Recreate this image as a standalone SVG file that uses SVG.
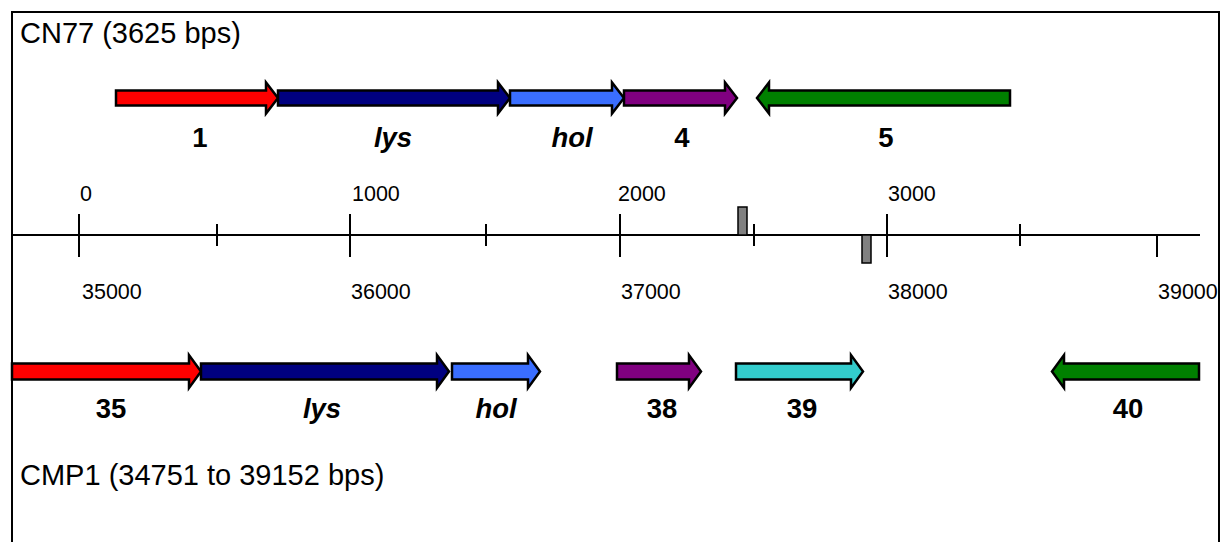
<svg xmlns="http://www.w3.org/2000/svg" width="1224" height="542" viewBox="0 0 1224 542">
  <style>
    .frame { fill: none; stroke: #000; stroke-width: 2; }
    .gene { stroke: #000; stroke-width: 2.5; stroke-linejoin: miter; }
    .axis { stroke: #000; stroke-width: 2; fill: none; }
    .tick { stroke: #000; stroke-width: 2; }
    .mark { fill: #808080; stroke: #000; stroke-width: 1.5; }
    .title { font-family: "Liberation Sans", Arial, sans-serif; font-size: 29px; fill: #000; }
    .num { font-family: "Liberation Sans", Arial, sans-serif; font-size: 21.5px; fill: #000; }
    .lbl { font-family: "Liberation Sans", Arial, sans-serif; font-size: 27.5px; font-weight: bold; fill: #000; text-anchor: middle; }
    .it { font-style: italic; }
    .red { fill: #ff0000; } .navy { fill: #000080; } .blue { fill: #3a6eff; }
    .purple { fill: #800080; } .green { fill: #008000; } .cyan { fill: #33cccc; }
  </style>

  <rect class="frame" x="12" y="12" width="1207" height="560"/>

  <text class="title" x="20" y="43">CN77 (3625 bps)</text>
  <text class="title" x="20" y="485">CMP1 (34751 to 39152 bps)</text>

  <!-- CN77 genes -->
  <g id="cn77-1">
    <polygon class="gene red" points="116,90.5 266,90.5 266,82.5 278,98 266,113.5 266,105.5 116,105.5"/>
    <text class="lbl" x="200" y="147">1</text>
  </g>
  <g id="cn77-lys">
    <polygon class="gene navy" points="278,90.5 498,90.5 498,82.5 510,98 498,113.5 498,105.5 278,105.5"/>
    <text class="lbl it" x="393" y="147">lys</text>
  </g>
  <g id="cn77-hol">
    <polygon class="gene blue" points="510,90.5 612,90.5 612,82.5 624,98 612,113.5 612,105.5 510,105.5"/>
    <text class="lbl it" x="572" y="147">hol</text>
  </g>
  <g id="cn77-4">
    <polygon class="gene purple" points="624,90.5 725,90.5 725,82.5 737,98 725,113.5 725,105.5 624,105.5"/>
    <text class="lbl" x="682" y="147">4</text>
  </g>
  <g id="cn77-5">
    <polygon class="gene green" points="1010,90.5 769,90.5 769,82.5 757,98 769,113.5 769,105.5 1010,105.5"/>
    <text class="lbl" x="886" y="147">5</text>
  </g>

  <!-- coordinate scale -->
  <g id="scale">
    <line class="axis" x1="12" y1="235" x2="1200" y2="235"/>
    <line class="tick" x1="79" y1="214" x2="79" y2="257"/>
    <line class="tick" x1="350" y1="214" x2="350" y2="257"/>
    <line class="tick" x1="620" y1="214" x2="620" y2="257"/>
    <line class="tick" x1="887" y1="214" x2="887" y2="257"/>
    <line class="tick" x1="217" y1="224" x2="217" y2="246"/>
    <line class="tick" x1="486" y1="224" x2="486" y2="246"/>
    <line class="tick" x1="754" y1="224" x2="754" y2="246"/>
    <line class="tick" x1="1020" y1="224" x2="1020" y2="246"/>
    <line class="tick" x1="1157" y1="235" x2="1157" y2="257"/>
    <rect class="mark" x="738" y="207" width="9" height="28"/>
    <rect class="mark" x="862" y="235" width="9" height="28"/>
    <text class="num" x="80" y="201">0</text>
    <text class="num" x="352" y="201">1000</text>
    <text class="num" x="618" y="201">2000</text>
    <text class="num" x="888" y="201">3000</text>
    <text class="num" x="82" y="299">35000</text>
    <text class="num" x="351" y="299">36000</text>
    <text class="num" x="621" y="299">37000</text>
    <text class="num" x="888" y="299">38000</text>
    <text class="num" x="1158" y="299">39000</text>
  </g>

  <!-- CMP1 genes -->
  <g id="cmp1-35">
    <polygon class="gene red" points="12,363.5 189,363.5 189,355 201,371.5 189,388 189,379.5 12,379.5"/>
    <text class="lbl" x="111" y="418">35</text>
  </g>
  <g id="cmp1-lys">
    <polygon class="gene navy" points="201,363.5 437,363.5 437,355 449,371.5 437,388 437,379.5 201,379.5"/>
    <text class="lbl it" x="322" y="418">lys</text>
  </g>
  <g id="cmp1-hol">
    <polygon class="gene blue" points="452,363.5 528,363.5 528,355 540,371.5 528,388 528,379.5 452,379.5"/>
    <text class="lbl it" x="496" y="418">hol</text>
  </g>
  <g id="cmp1-38">
    <polygon class="gene purple" points="617,363.5 689,363.5 689,355 701,371.5 689,388 689,379.5 617,379.5"/>
    <text class="lbl" x="662" y="418">38</text>
  </g>
  <g id="cmp1-39">
    <polygon class="gene cyan" points="736,363.5 851,363.5 851,355 863,371.5 851,388 851,379.5 736,379.5"/>
    <text class="lbl" x="802" y="418">39</text>
  </g>
  <g id="cmp1-40">
    <polygon class="gene green" points="1199,363.5 1064,363.5 1064,355 1052,371.5 1064,388 1064,379.5 1199,379.5"/>
    <text class="lbl" x="1128" y="418">40</text>
  </g>
</svg>
